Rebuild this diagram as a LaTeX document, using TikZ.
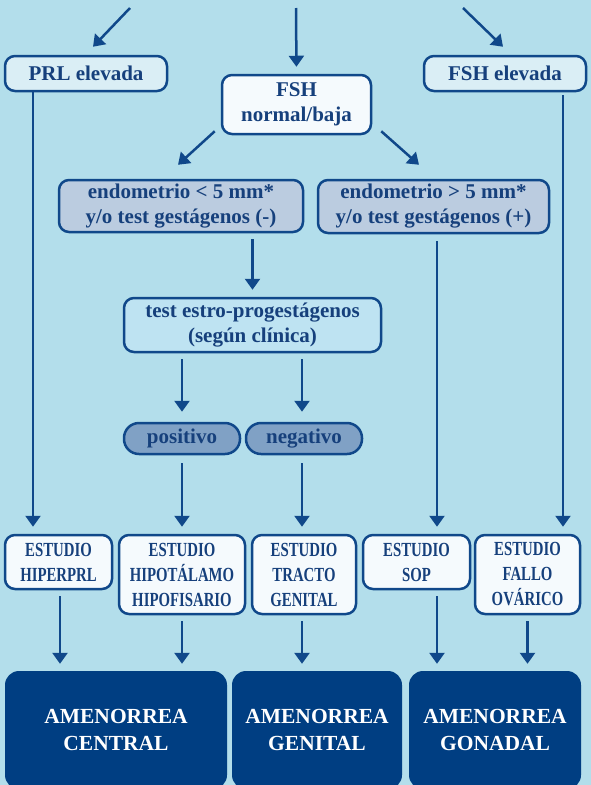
\documentclass[tikz,border=0pt]{standalone}
\usepackage{fontspec}
\setmainfont{Liberation Serif}
\newfontfamily\estrecha[FakeStretch=0.74]{Liberation Serif}
\usetikzlibrary{arrows.meta,calc}

\definecolor{fondo}{RGB}{179,222,235}
\definecolor{azul}{RGB}{16,72,138}
\definecolor{azultexto}{RGB}{22,64,124}
\definecolor{claro}{RGB}{218,238,245}
\definecolor{blanco}{RGB}{245,250,253}
\definecolor{gris}{RGB}{187,204,224}
\definecolor{cian}{RGB}{190,227,242}
\definecolor{medio}{RGB}{128,161,197}
\definecolor{oscuro}{RGB}{0,62,130}

\tikzset{
  caja/.style={draw=azul, line width=2.5pt, rounded corners=10pt, text=azultexto,
    font=\fontsize{21}{25}\selectfont\bfseries, align=center, inner sep=0pt},
  estudio/.style={caja, fill=blanco, minimum height=54pt,
    font=\fontsize{20}{25}\selectfont\estrecha\bfseries},
  final/.style={fill=oscuro, rounded corners=14pt, text=white, align=center,
    font=\fontsize{21.5}{27}\selectfont\bfseries, minimum height=118pt},
  flecha/.style={azul, line width=2.5pt, -{Triangle[width=15pt,length=11pt]},
    shorten <=6pt, shorten >=7pt}
}

\begin{document}
\begin{tikzpicture}[x=1pt,y=-1pt]

% Fondo
\fill[fondo] (0,0) rectangle (591,785);
\useasboundingbox (0,0) rectangle (591,785);
\clip (0,0) rectangle (591,785);

% Entradas y columnas
\coordinate (inA) at (130,8);
\coordinate (inB) at (296,8);
\coordinate (inC) at (463,8);
\coordinate (colA) at (33,0);
\coordinate (colB) at (182,0);
\coordinate (colC) at (302,0);
\coordinate (colD) at (437,0);
\coordinate (colE) at (563,0);

% Primer nivel
\node[caja, fill=claro, minimum width=162pt, minimum height=35pt] (prl) at (86,73.5) {PRL elevada};
\node[caja, fill=blanco, minimum width=149pt, minimum height=59pt] (fshn) at (296.5,104.5) {FSH\\normal/baja};
\node[caja, fill=claro, minimum width=162pt, minimum height=35pt] (fshe) at (505,73.5) {FSH elevada};

% Endometrio
\node[caja, fill=gris, minimum width=244pt, minimum height=52pt] (endoA) at (181,206) {endometrio < 5 mm*\\y/o test gestágenos (-)};
\node[caja, fill=gris, minimum width=231pt, minimum height=53pt] (endoB) at (433.5,206.5) {endometrio > 5 mm*\\y/o test gestágenos (+)};

% Test estro-progestágenos
\node[caja, fill=cian, minimum width=257pt, minimum height=54pt] (estro) at (252.5,325) {test estro-progestágenos\\(según clínica)};
\node[caja, fill=medio, rounded corners=15pt, minimum width=116pt, minimum height=31pt] (pos) at (182,438.5) {positivo};
\node[caja, fill=medio, rounded corners=15pt, minimum width=116pt, minimum height=31pt] (neg) at (304,438.5) {negativo};

% Estudios
\node[estudio, minimum width=107pt] (hiperprl) at (58.5,562) {ESTUDIO\\HIPERPRL};
\node[estudio, minimum width=126pt, minimum height=79pt] (hipot) at (182,574.5) {ESTUDIO\\HIPOTÁLAMO\\HIPOFISARIO};
\node[estudio, minimum width=104pt, minimum height=79pt] (tracto) at (304,574.5) {ESTUDIO\\TRACTO\\GENITAL};
\node[estudio, minimum width=107pt] (sop) at (416.5,562) {ESTUDIO\\SOP};
\node[estudio, minimum width=105pt, minimum height=79pt] (fallo) at (527.5,574.5) {ESTUDIO\\FALLO\\OVÁRICO};

% Amenorreas
\node[final, minimum width=222pt] (central) at (116,730) {AMENORREA\\CENTRAL};
\node[final, minimum width=170pt] (genital) at (317,730) {AMENORREA\\GENITAL};
\node[final, minimum width=172pt] (gonadal) at (495,730) {AMENORREA\\GONADAL};

% Flechas de entrada
\draw[flecha, shorten <=0pt, shorten >=0pt] (inA) -- ($(prl.north)+(7,-8)$);
\draw[flecha, shorten <=0pt] (inB) -- (fshn.north);
\draw[flecha, shorten <=0pt, shorten >=0pt] (inC) -- ($(fshe.north)+(-2,-8)$);

% Desde FSH normal/baja
\draw[flecha, shorten <=0pt, shorten >=0pt] ($(fshn.south west)+(-6,-4)$) -- ($(endoA.north)+(-3,-14)$);
\draw[flecha, shorten <=0pt, shorten >=0pt] ($(fshn.south east)+(9,-4)$) -- ($(endoB.north)+(-14.5,-14)$);

% Columnas laterales
\draw[flecha, shorten <=0pt] (prl.south -| colA) -- (hiperprl.north -| colA);
\draw[flecha, shorten <=3pt] (fshe.south -| colE) -- (fallo.north -| colE);
\draw[flecha, shorten <=7pt] (endoB.south -| colD) -- (sop.north -| colD);

% Rama central
\draw[flecha] (endoA.south -| estro.north) -- (estro.north);
\draw[flecha, shorten >=10pt] (estro.south -| colB) -- (pos.north -| colB);
\draw[flecha, shorten >=10pt] (estro.south -| colC) -- (neg.north -| colC);
\draw[flecha, shorten <=8pt] (pos.south -| colB) -- (hipot.north -| colB);
\draw[flecha, shorten <=8pt] (neg.south -| colC) -- (tracto.north -| colC);

% Hacia las amenorreas
\draw[flecha] ([xshift=1.5pt]hiperprl.south) -- ([xshift=1.5pt]hiperprl.south |- central.north);
\draw[flecha] (hipot.south -| colB) -- (central.north -| colB);
\draw[flecha] (tracto.south -| colC) -- (genital.north -| colC);
\draw[flecha] (sop.south -| colD) -- (gonadal.north -| colD);
\draw[flecha] (fallo.south) -- (fallo.south |- gonadal.north);

\end{tikzpicture}
\end{document}
